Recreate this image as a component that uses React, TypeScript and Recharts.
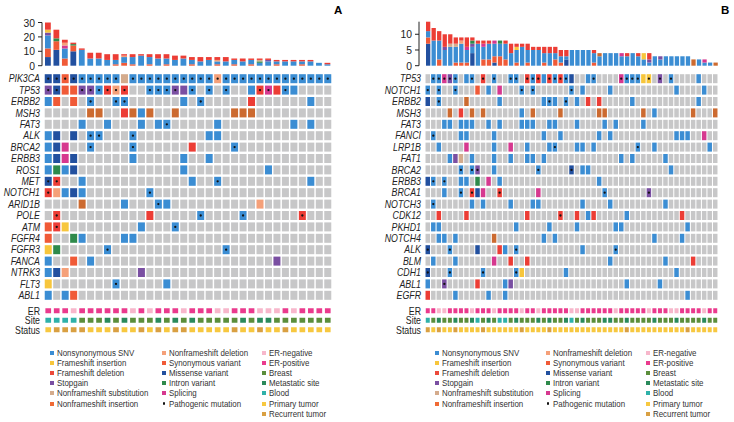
import React from 'react';
import { BarChart, Bar, XAxis, YAxis, ScatterChart, Scatter } from 'recharts';

const FONT = "'Liberation Sans', Arial, sans-serif";

// ---------- colours of mutation / annotation types ----------
const COLORS: Record<string, string> = {
  n: '#3b8dd3', // Nonsynonymous SNV
  i: '#f7c63c', // Frameshift insertion
  d: '#ec3d35', // Frameshift deletion
  s: '#7a4fa2', // Stopgain
  u: '#d4ab8c', // Nonframeshift substitution
  r: '#cc6a30', // Nonframeshift insertion
  e: '#f5a079', // Nonframeshift deletion
  y: '#f05a37', // Synonymous variant
  m: '#22509f', // Missense variant
  t: '#2e8a4b', // Intron variant
  p: '#d6388f', // Splicing
  '.': '#c7c7c8',
  // annotations
  L: '#f7b7cb', // ER-negative
  P: '#ea3a8d', // ER-positive
  o: '#5b8e3b', // Breast
  g: '#2a8a5b', // Metastatic site
  b: '#2fb1a9', // Blood
  a: '#f7c840', // Primary tumor
  c: '#d9a042', // Recurrent tumor
};

const STACK = ['m', 'y', 'n', 's', 'p', 't', 'u', 'r', 'e', 'i', 'd'];

// ---------- Panel A ----------
const genesA = ['PIK3CA', 'TP53', 'ERBB2', 'MSH3', 'FAT3', 'ALK', 'BRCA2', 'ERBB3', 'ROS1', 'MET', 'NOTCH1', 'ARID1B', 'POLE', 'ATM', 'FGFR4', 'FGFR3', 'FANCA', 'NTRK3', 'FLT3', 'ABL1'];
// sparse "column+code" tokens; upper case = pathogenic mutation
const mutA = [
  '0M 1M 2Y 3M 4N 5N 6N 7N 8N 9u 10N 11N 12N 13N 14N 15N 16N 17N 18N 19N 20E 21N 22N 23N 24N 25N 26N 27N 28N 29N 30N 31N 32N 33N',
  '0S 1M 2y 3y 4S 5S 6N 7D 8E 9D 12N 13N 14N 15S 16s 17N 19N 21N 24n 25D 26P 27d 28N 29n',
  '0n 1y 3y 5N 8N 9N 16n 18N 24d 31n',
  '5r 6r 9d 10r 11n 12r 15r 22r 23r 24r',
  '4n 7n 11n 13n 14N 20n 29n 31n',
  '0n 1m 3m 5N 6N 10N 19n 20n',
  '0n 1m 2p 5N 10N 17d 22N',
  '0n 1m 2p 3m 10n 16n 19n',
  '0n 1t 2n 3m 16n 26n',
  '0M 1D 4n 17n 20N 31n',
  '0D 1e 2n 3m 4n 12N',
  '4r 9n 13N 14n 25e',
  '1D 12d 18N 23N 30D',
  '0y 1D 2i 11n 15N',
  '0y 3t 4n 9n 10n',
  '0i 1t 7N 21N',
  '0n 3y 5n 27s',
  '0n 1m 2e 11s',
  '0i 8N 14n',
  '0n 2n 3y',
];
const erA = 'PPPLPPPPPPLPLPPPLPPPLLPPPLLLPLPPPP';
const siteA = 'bbbbooogogooogogogooooogoggooooooo';
const statusA = 'accccaaacaacacaccaaaaacaacaacaaaaa';
const barsA = [
  'm6 y6 n9 s2 i2 d5', 'm11 y6 t2 d6', 'y5 n7 p2 e2 d2', 'm10 y4 t1 d1', 'n11 d1', 'n5 d4', 'n5 d4', 'n4 d4',
  'y1 n3 d4', 'y2 n4 e1 d1', 'y1 n5 d2', 'n7 d1', 'y1 n5 d2', 'n5 d3', 'y1 n4 d3', 'n4 d3', 'n5 d2',
  'y1 n3 d2', 'n3 d3', 'n4 d2', 'y1 n2 e1 d2', 'n3 d3', 'y1 n3 d1', 'n3 d2', 'y1 n3 d1', 'n2 t1 u1 d1',
  'n3 s1 d1', 'y1 n2 d1', 'n3 d1', 'n3 d1', 'y1 n2 d1', 'n3 d1', 'n2', 'n1 d1',
];

// ---------- Panel B ----------
const genesB = ['TP53', 'NOTCH1', 'ERBB2', 'MSH3', 'FAT3', 'FANCI', 'LRP1B', 'FAT1', 'BRCA2', 'ERBB3', 'BRCA1', 'NOTCH3', 'CDK12', 'PKHD1', 'NOTCH4', 'ALK', 'BLM', 'CDH1', 'ABL1', 'EGFR'];
const mutB = [
  '1N 2N 3P 4S 5N 7n 8N 10D 12N 15N 16N 18D 19N 20D 21n 22D 23N 24D 25N 26m 29n 30N 35P 36N 37N 38N 39i 40I 42S 44N 49n',
  '0N 2N 5N 9y 11n 13p 17N 19N 26N 28n 33n 45n 50n',
  '0m 2N 7r 13n 21n 22N 23n 25N 27n 29d 31d 37n 49n',
  '4r 6d 8r 10r 17n 19r 24r 31r 32r 39r 41n 48r 52r',
  '3n 4n 6n 7n 8n 11n 13n 17n 18n 19n 22n 23n 27n 32n 34n 39n',
  '1N 6n 7n 12n 21n 24n 31n 33n 45n 46n 47n 50p',
  '2n 7p 12n 15p 18n 22n 23N 27n 28n 30n 38N 41n 51n',
  '4n 5s 6u 8n 12n 15n 18n 19n 21n 35n 37n 43n',
  '6N 8N 9S 12n 20N 26M 28n 29n 44n',
  '0m 1N 3N 6n 7n 9t 11p 13n 31n',
  '3n 6N 8D 9m 10p 13D 20p 32N 40S',
  '1N 8n 10n 15n 19n 20n 28n 33n 43n',
  '2d 7d 18d 24D 27d 29n 30d 36n 46d',
  '1n 2n 16n 22n 27n 34n 35n 47n',
  '2n 3n 5n 12r 21n 23n 41n 46n',
  '0M 4N 9m 13d 14n 16N 28n 34N',
  '1n 5n 12p 15d 18d 33n 43n 48d',
  '0M 4N 10N 16N 17i 25n 45n',
  '0n 3S 9d 14n 15s 36n 42n',
  '0d 5n 11n 14n 47n',
];
const erB = 'PPLLPPPPLPPPLPPPPLPPLPPPPPLLPPPPPPLPPPPPLPPPLLPPPPLPP';
const siteB = 'bogoogoogbogobbogooogogoogbogoooggoogoooogooogoooogoo';
const statusB = 'cacaacaaaacaaaaaacaaaacaaaaaaaaaaaaacaaaaaaaaaacaaaaa';
const barsB = [
  'm7 y2 n2 d3', 'n8 d4', 'y2 n6 d3', 'n5 s1 d4', 'n6 u1 d3', 'y1 n5 u1 d2', 'y1 n6 e1 d1', 'y1 n4 p1 d3',
  'm4 n2 s1 t1 d1', 'n7 d1', 'y2 n4 p1 d1', 'y2 n5 d1', 'm1 y2 n4 p1', 'y3 n4 t1', 'y2 n5 d1', 'n4 d3',
  'y1 n4 i1 d1', 'n6 d1', 'y1 n4 d2', 'n5 d1', 'n5 d1', 'y1 n3 d2', 'n4 d2', 'y2 n2 d2', 'y1 n2 d2',
  'm2 n1 d2', 'n5', 'n5', 'n5', 'n5', 'y1 n3 d1', 'n3 r1', 'n4', 'n4', 'n4', 'n3 p1', 'n3 d1', 'n4',
  'n3 d1', 'n2 i2', 's1 n1 d2', 'n3', 's1 n2', 'n3', 'n3', 'n3', 'n3', 'n3', 'r2', 'n2', 'n1 p1', 'n1', 'r1',
];

// ---------- legend ----------
const legend1 = [
  ['Nonsynonymous SNV', '#3b8dd3'], ['Frameshift insertion', '#f7c63c'], ['Frameshift deletion', '#ec4a3a'],
  ['Stopgain', '#7a4fa2'], ['Nonframeshift substitution', '#d4ab8c'], ['Nonframeshift insertion', '#f06a35'],
];
const legend2 = [
  ['Nonframeshift deletion', '#f5a079'], ['Synonymous variant', '#f05a37'], ['Missense variant', '#22509f'],
  ['Intron variant', '#2e8a4b'], ['Splicing', '#d6388f'], ['Pathogenic mutation', 'dot'],
];
const legend3 = [
  ['ER-negative', '#f7b7cb'], ['ER-positive', '#ea3a8d'], ['Breast', '#5b8e3b'], ['Metastatic site', '#2a8a5b'],
  ['Blood', '#2fb1a9'], ['Primary tumor', '#f7c840'], ['Recurrent tumor', '#d9a042'],
];

// ---------- builders ----------
function mutCells(rows: string[], ncol: number) {
  const pts: any[] = [];
  rows.forEach((row, gi) => {
    const arr: string[] = new Array(ncol).fill('.');
    row.split(' ').filter(Boolean).forEach((tok) => {
      const k = parseInt(tok.slice(0, -1), 10);
      arr[k] = tok.slice(-1);
    });
    arr.forEach((ch, k) => {
      const low = ch.toLowerCase();
      pts.push({ x: k, y: gi, t: low, path: ch !== low });
    });
  });
  return pts;
}
function annCells(rows: string[]) {
  const pts: any[] = [];
  rows.forEach((row, ri) => {
    row.split('').forEach((ch, k) => pts.push({ x: k, y: ri, t: ch, path: false }));
  });
  return pts;
}
function barTable(cols: string[]) {
  return cols.map((c, i) => {
    const o: any = { c: i };
    STACK.forEach((t) => (o[t] = 0));
    c.split(' ').forEach((tok) => {
      o[tok[0]] = parseInt(tok.slice(1), 10);
    });
    return o;
  });
}
const range = (n: number) => Array.from({ length: n }, (_, i) => i);

const cellShape = (w: number, h: number) => (props: any) => {
  const { cx, cy, payload } = props;
  if (cx == null || cy == null) return <g />;
  return (
    <g>
      <rect x={cx - w / 2} y={cy - h / 2} width={w} height={h} fill={COLORS[payload.t]} />
      {payload.path ? <circle cx={cx} cy={cy} r={1.15} fill="#111" /> : null}
    </g>
  );
};

// condensed tick text (horizontal scale) to mimic a condensed sans font
const condTick = (labels: string[] | null, size: number, sx: number, italic: boolean) => (p: any) => {
  const { x, y, payload } = p;
  const label = labels ? labels[payload.value] : String(payload.value);
  return (
    <text
      transform={`translate(${x},${y}) scale(${sx},1)`}
      x={0}
      y={0}
      dy="0.36em"
      textAnchor="end"
      fontSize={size}
      fontFamily={FONT}
      fontStyle={italic ? 'italic' : 'normal'}
      fill="#222"
    >
      {label}
    </text>
  );
};

function Grid(props: any) {
  const { left, top, width, height, axisW, ncol, labels, points, cw, ch, italic } = props;
  const nrow = labels.length;
  return (
    <div style={{ position: 'absolute', left, top }}>
      <ScatterChart width={width} height={height} margin={{ top: 0, right: 0, bottom: 0, left: 0 }}>
        <XAxis type="number" dataKey="x" domain={[-0.5, ncol - 0.5]} hide />
        <YAxis
          type="number"
          dataKey="y"
          domain={[-0.5, nrow - 0.5]}
          reversed
          ticks={range(nrow)}
          interval={0}
          width={axisW}
          axisLine={false}
          tickLine={false}
          tickSize={0}
          tickMargin={4}
          tick={condTick(labels, 10.5, 0.84, !!italic)}
        />
        <Scatter data={points} isAnimationActive={false} shape={cellShape(cw, ch)} />
      </ScatterChart>
    </div>
  );
}

function Bars(props: any) {
  const { left, width, axisW, padLeft, data, max, ticks, barSize, top } = props;
  return (
    <div style={{ position: 'absolute', left, top: 0 }}>
      <BarChart width={width} height={72} data={data} margin={{ top, right: 0, bottom: 72 - 65.7, left: 0 }} barCategoryGap={0}>
        <XAxis dataKey="c" hide padding={{ left: padLeft, right: 0 }} />
        <YAxis
          type="number"
          domain={[0, max]}
          ticks={ticks}
          interval={0}
          width={axisW}
          tickSize={4}
          tickMargin={3}
          axisLine={{ stroke: '#222' }}
          tickLine={{ stroke: '#222' }}
          tick={condTick(null, 11.5, 0.9, false)}
        />
        {STACK.map((t) => (
          <Bar key={t} dataKey={t} stackId="s" fill={COLORS[t]} barSize={barSize} isAnimationActive={false} />
        ))}
      </BarChart>
    </div>
  );
}

function LegendCol(props: any) {
  const { x, items } = props;
  return (
    <>
      {items.map((it: string[], i: number) => (
        <div key={i} style={{ position: 'absolute', left: x, top: 352.5 + i * 10.2 - 6, height: 12, display: 'flex', alignItems: 'center', whiteSpace: 'nowrap' }}>
          {it[1] === 'dot' ? (
            <span style={{ display: 'inline-block', width: 4, height: 4, marginRight: 3, position: 'relative' }}>
              <span style={{ position: 'absolute', left: 0.8, top: 0.8, width: 2.4, height: 2.4, borderRadius: 2, background: '#111' }} />
            </span>
          ) : (
            <span style={{ display: 'inline-block', width: 4, height: 4, background: it[1], marginRight: 3 }} />
          )}
          <span style={{ display: 'inline-block', fontSize: 9.2, color: '#333', fontFamily: FONT, transform: 'scaleX(0.86)', transformOrigin: 'left center' }}>{it[0]}</span>
        </div>
      ))}
    </>
  );
}

export default function App() {
  const cellsA = mutCells(mutA, 34);
  const cellsB = mutCells(mutB, 53);
  const annA = annCells([erA, siteA, statusA]);
  const annB = annCells([erB, siteB, statusB]);
  return (
    <div style={{ position: 'absolute', left: 0, top: 0, width: 734, height: 422, background: '#fff', overflow: 'hidden' }}>
      <div style={{ position: 'absolute', left: 334, top: 4, fontSize: 11.5, fontWeight: 'bold', fontFamily: FONT }}>A</div>
      <div style={{ position: 'absolute', left: 721, top: 4, fontSize: 11.5, fontWeight: 'bold', fontFamily: FONT }}>B</div>

      <Bars left={0} width={332} axisW={42} padLeft={2} data={barTable(barsA)} max={30} ticks={[0, 10, 20, 30]} barSize={5.8} top={22.5} />
      <Grid left={0} top={72.5} width={332} height={228} axisW={44} ncol={34} labels={genesA} points={cellsA} cw={7} ch={9} italic />
      <Grid left={0} top={305.5} width={332} height={28.5} axisW={44} ncol={34} labels={['ER', 'Site', 'Status']} points={annA} cw={5.7} ch={5} />
      <LegendCol x={50} items={legend1} />
      <LegendCol x={162} items={legend2} />
      <LegendCol x={262} items={legend3} />

      <Bars left={370} width={348} axisW={49} padLeft={6} data={barTable(barsB)} max={14} ticks={[0, 5, 10]} barSize={4.3} top={21.7} />
      <Grid left={370} top={72.5} width={348} height={228} axisW={55} ncol={53} labels={genesB} points={cellsB} cw={4.5} ch={9} italic />
      <Grid left={370} top={305.5} width={348} height={28.5} axisW={55} ncol={53} labels={['ER', 'Site', 'Status']} points={annB} cw={4} ch={5} />
      <LegendCol x={435} items={legend1} />
      <LegendCol x={546} items={legend2} />
      <LegendCol x={646} items={legend3} />
    </div>
  );
}
